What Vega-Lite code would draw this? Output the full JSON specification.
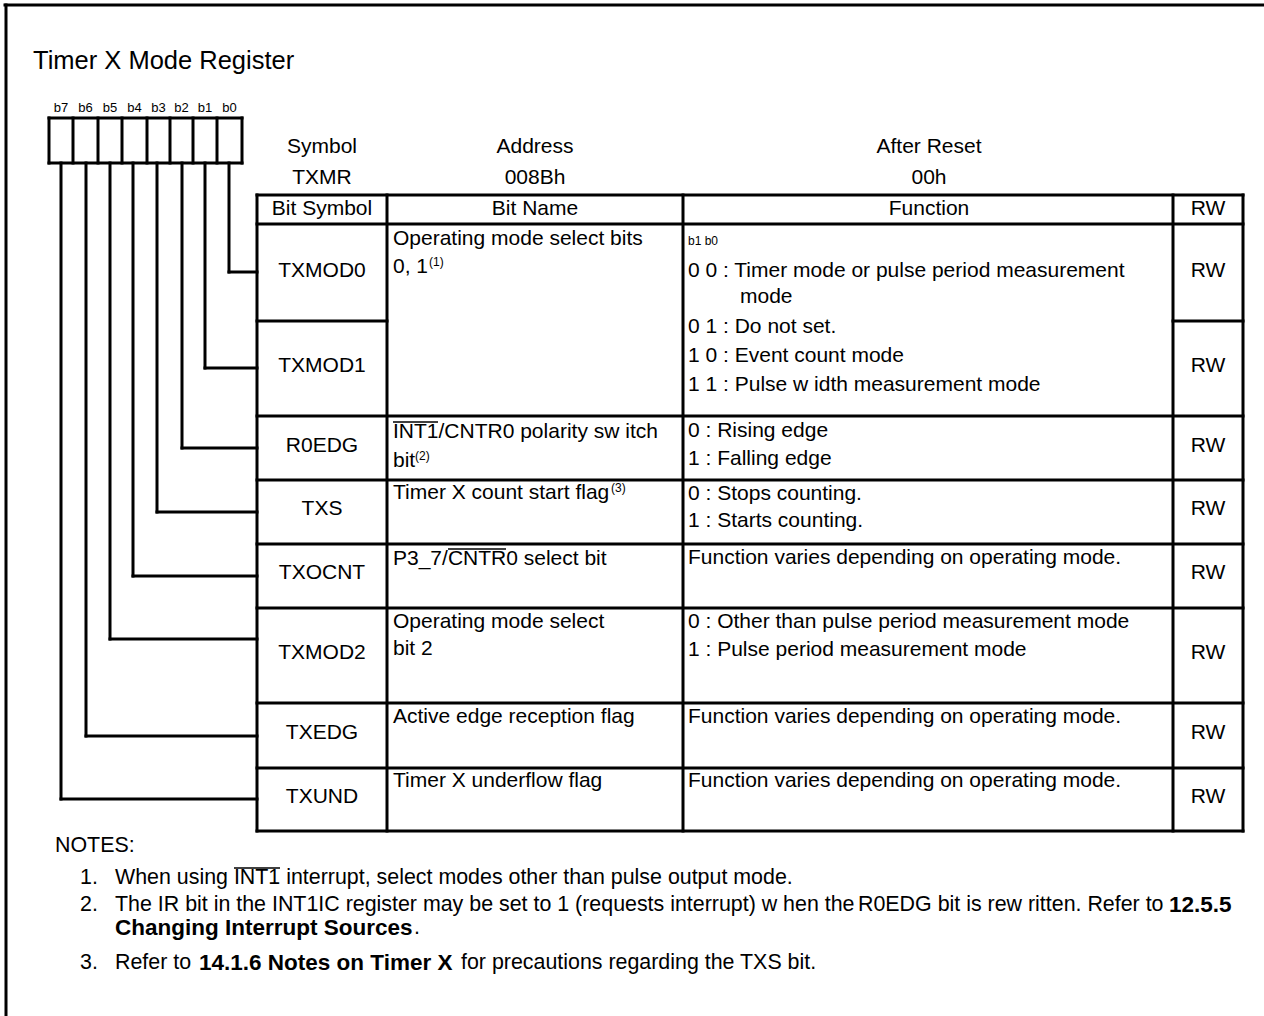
{
  "$schema": "https://vega.github.io/schema/vega-lite/v6.json",
  "width": 1264,
  "height": 1016,
  "padding": 0,
  "autosize": {"type": "none"},
  "background": "white",
  "config": {"view": {"stroke": null}, "text": {"font": "Liberation Sans", "color": "black"}},
  "datasets": {
    "lines": [
      {"x": 5, "y": 5, "x2": 1264, "y2": 5},
      {"x": 6, "y": 5, "x2": 6, "y2": 1016},
      {"x": 49, "y": 118, "x2": 242, "y2": 118},
      {"x": 49, "y": 163, "x2": 242, "y2": 163},
      {"x": 49, "y": 118, "x2": 49, "y2": 163},
      {"x": 73, "y": 118, "x2": 73, "y2": 163},
      {"x": 98, "y": 118, "x2": 98, "y2": 163},
      {"x": 122, "y": 118, "x2": 122, "y2": 163},
      {"x": 147, "y": 118, "x2": 147, "y2": 163},
      {"x": 170, "y": 118, "x2": 170, "y2": 163},
      {"x": 193, "y": 118, "x2": 193, "y2": 163},
      {"x": 217, "y": 118, "x2": 217, "y2": 163},
      {"x": 242, "y": 118, "x2": 242, "y2": 163},
      {"x": 229, "y": 163, "x2": 229, "y2": 272},
      {"x": 229, "y": 272, "x2": 257, "y2": 272},
      {"x": 205, "y": 163, "x2": 205, "y2": 368},
      {"x": 205, "y": 368, "x2": 257, "y2": 368},
      {"x": 182, "y": 163, "x2": 182, "y2": 448},
      {"x": 182, "y": 448, "x2": 257, "y2": 448},
      {"x": 157, "y": 163, "x2": 157, "y2": 512},
      {"x": 157, "y": 512, "x2": 257, "y2": 512},
      {"x": 133, "y": 163, "x2": 133, "y2": 576},
      {"x": 133, "y": 576, "x2": 257, "y2": 576},
      {"x": 110, "y": 163, "x2": 110, "y2": 639},
      {"x": 110, "y": 639, "x2": 257, "y2": 639},
      {"x": 86, "y": 163, "x2": 86, "y2": 736},
      {"x": 86, "y": 736, "x2": 257, "y2": 736},
      {"x": 61, "y": 163, "x2": 61, "y2": 799},
      {"x": 61, "y": 799, "x2": 257, "y2": 799},
      {"x": 257, "y": 195, "x2": 1243, "y2": 195},
      {"x": 257, "y": 224, "x2": 1243, "y2": 224},
      {"x": 257, "y": 321, "x2": 387, "y2": 321},
      {"x": 1173, "y": 321, "x2": 1243, "y2": 321},
      {"x": 257, "y": 416, "x2": 1243, "y2": 416},
      {"x": 257, "y": 480, "x2": 1243, "y2": 480},
      {"x": 257, "y": 544, "x2": 1243, "y2": 544},
      {"x": 257, "y": 608, "x2": 1243, "y2": 608},
      {"x": 257, "y": 703, "x2": 1243, "y2": 703},
      {"x": 257, "y": 768, "x2": 1243, "y2": 768},
      {"x": 257, "y": 831, "x2": 1243, "y2": 831},
      {"x": 257, "y": 195, "x2": 257, "y2": 831},
      {"x": 387, "y": 195, "x2": 387, "y2": 831},
      {"x": 683, "y": 195, "x2": 683, "y2": 831},
      {"x": 1173, "y": 195, "x2": 1173, "y2": 831},
      {"x": 1243, "y": 195, "x2": 1243, "y2": 831}
    ],
    "overlines": [
      {"x": 393, "y": 422, "x2": 438, "y2": 422},
      {"x": 448, "y": 549, "x2": 506, "y2": 549},
      {"x": 234, "y": 868, "x2": 280, "y2": 868}
    ],
    "title": [
      {"x": 33, "y": 61, "text": "Timer X Mode Register"}
    ],
    "bitlabels": [
      {"x": 61, "y": 108, "text": "b7"},
      {"x": 85.5, "y": 108, "text": "b6"},
      {"x": 110, "y": 108, "text": "b5"},
      {"x": 134.5, "y": 108, "text": "b4"},
      {"x": 158.5, "y": 108, "text": "b3"},
      {"x": 181.5, "y": 108, "text": "b2"},
      {"x": 205, "y": 108, "text": "b1"},
      {"x": 229.5, "y": 108, "text": "b0"}
    ],
    "small": [
      {"x": 688, "y": 241, "text": "b1 b0"},
      {"x": 429, "y": 262, "text": "(1)"},
      {"x": 415, "y": 456, "text": "(2)"},
      {"x": 611, "y": 488, "text": "(3)"}
    ],
    "centered": [
      {"x": 322, "y": 147, "text": "Symbol"},
      {"x": 322, "y": 178, "text": "TXMR"},
      {"x": 535, "y": 147, "text": "Address"},
      {"x": 535, "y": 178, "text": "008Bh"},
      {"x": 929, "y": 147, "text": "After Reset"},
      {"x": 929, "y": 178, "text": "00h"},
      {"x": 322, "y": 209, "text": "Bit Symbol"},
      {"x": 535, "y": 209, "text": "Bit Name"},
      {"x": 929, "y": 209, "text": "Function"},
      {"x": 1208, "y": 209, "text": "RW"},
      {"x": 322, "y": 271, "text": "TXMOD0"},
      {"x": 322, "y": 366, "text": "TXMOD1"},
      {"x": 322, "y": 446, "text": "R0EDG"},
      {"x": 322, "y": 509, "text": "TXS"},
      {"x": 322, "y": 573, "text": "TXOCNT"},
      {"x": 322, "y": 653, "text": "TXMOD2"},
      {"x": 322, "y": 733, "text": "TXEDG"},
      {"x": 322, "y": 797, "text": "TXUND"},
      {"x": 1208, "y": 271, "text": "RW"},
      {"x": 1208, "y": 366, "text": "RW"},
      {"x": 1208, "y": 446, "text": "RW"},
      {"x": 1208, "y": 509, "text": "RW"},
      {"x": 1208, "y": 573, "text": "RW"},
      {"x": 1208, "y": 653, "text": "RW"},
      {"x": 1208, "y": 733, "text": "RW"},
      {"x": 1208, "y": 797, "text": "RW"}
    ],
    "left": [
      {"x": 393, "y": 239, "text": "Operating mode select bits"},
      {"x": 393, "y": 267, "text": "0, 1"},
      {"x": 393, "y": 432, "text": "INT1/CNTR0 polarity sw itch"},
      {"x": 393, "y": 461, "text": "bit"},
      {"x": 393, "y": 493, "text": "Timer X count start flag"},
      {"x": 393, "y": 559, "text": "P3_7/CNTR0 select bit"},
      {"x": 393, "y": 622, "text": "Operating mode select"},
      {"x": 393, "y": 649, "text": "bit 2"},
      {"x": 393, "y": 717, "text": "Active edge reception flag"},
      {"x": 393, "y": 781, "text": "Timer X underflow  flag"},
      {"x": 688, "y": 271, "text": "0 0 : Timer mode or pulse period measurement"},
      {"x": 740, "y": 297, "text": "mode"},
      {"x": 688, "y": 327, "text": "0 1 : Do not set."},
      {"x": 688, "y": 356, "text": "1 0 : Event count mode"},
      {"x": 688, "y": 385, "text": "1 1 : Pulse w idth measurement mode"},
      {"x": 688, "y": 431, "text": "0 : Rising edge"},
      {"x": 688, "y": 459, "text": "1 : Falling edge"},
      {"x": 688, "y": 494, "text": "0 : Stops counting."},
      {"x": 688, "y": 521, "text": "1 : Starts counting."},
      {"x": 688, "y": 558, "text": "Function varies depending on operating mode."},
      {"x": 688, "y": 622, "text": "0 : Other than pulse period measurement mode"},
      {"x": 688, "y": 650, "text": "1 : Pulse period measurement mode"},
      {"x": 688, "y": 717, "text": "Function varies depending on operating mode."},
      {"x": 688, "y": 781, "text": "Function varies depending on operating mode."}
    ],
    "notes": [
      {"x": 55, "y": 846, "text": "NOTES:"},
      {"x": 80, "y": 878, "text": "1."},
      {"x": 115, "y": 878, "text": "When using INT1 interrupt, select modes other than pulse output mode."},
      {"x": 80, "y": 905, "text": "2."},
      {"x": 115, "y": 905, "text": "The IR bit in the INT1IC register may be set to 1 (requests interrupt) w hen the"},
      {"x": 858, "y": 905, "text": "R0EDG bit is rew ritten. Refer to"},
      {"x": 414, "y": 928, "text": "."},
      {"x": 80, "y": 963, "text": "3."},
      {"x": 115, "y": 963, "text": "Refer to"},
      {"x": 461, "y": 963, "text": "for precautions regarding the TXS bit."}
    ],
    "bold": [
      {"x": 1169, "y": 905, "text": "12.5.5"},
      {"x": 115, "y": 928, "text": "Changing Interrupt Sources"},
      {"x": 199, "y": 963, "text": "14.1.6 Notes on Timer X"}
    ]
  },
  "encoding": {
    "x": {"field": "x", "type": "quantitative", "scale": {"domain": [0, 1264], "nice": false, "zero": false}, "axis": null},
    "y": {"field": "y", "type": "quantitative", "scale": {"domain": [0, 1016], "nice": false, "zero": false, "reverse": true}, "axis": null}
  },
  "layer": [
    {
      "data": {"name": "lines"},
      "mark": {"type": "rule", "strokeWidth": 3, "strokeCap": "square", "color": "black"},
      "encoding": {"x2": {"field": "x2"}, "y2": {"field": "y2"}}
    },
    {
      "data": {"name": "overlines"},
      "mark": {"type": "rule", "strokeWidth": 1.5, "color": "black"},
      "encoding": {"x2": {"field": "x2"}, "y2": {"field": "y2"}}
    },
    {
      "data": {"name": "title"},
      "mark": {"type": "text", "align": "left", "baseline": "middle", "fontSize": 25.5},
      "encoding": {"text": {"field": "text"}}
    },
    {
      "data": {"name": "bitlabels"},
      "mark": {"type": "text", "align": "center", "baseline": "middle", "fontSize": 13},
      "encoding": {"text": {"field": "text"}}
    },
    {
      "data": {"name": "small"},
      "mark": {"type": "text", "align": "left", "baseline": "middle", "fontSize": 12},
      "encoding": {"text": {"field": "text"}}
    },
    {
      "data": {"name": "centered"},
      "mark": {"type": "text", "align": "center", "baseline": "middle", "fontSize": 21},
      "encoding": {"text": {"field": "text"}}
    },
    {
      "data": {"name": "left"},
      "mark": {"type": "text", "align": "left", "baseline": "middle", "fontSize": 21},
      "encoding": {"text": {"field": "text"}}
    },
    {
      "data": {"name": "notes"},
      "mark": {"type": "text", "align": "left", "baseline": "middle", "fontSize": 21.4},
      "encoding": {"text": {"field": "text"}}
    },
    {
      "data": {"name": "bold"},
      "mark": {"type": "text", "align": "left", "baseline": "middle", "fontSize": 22.5, "fontWeight": "bold"},
      "encoding": {"text": {"field": "text"}}
    }
  ]
}
